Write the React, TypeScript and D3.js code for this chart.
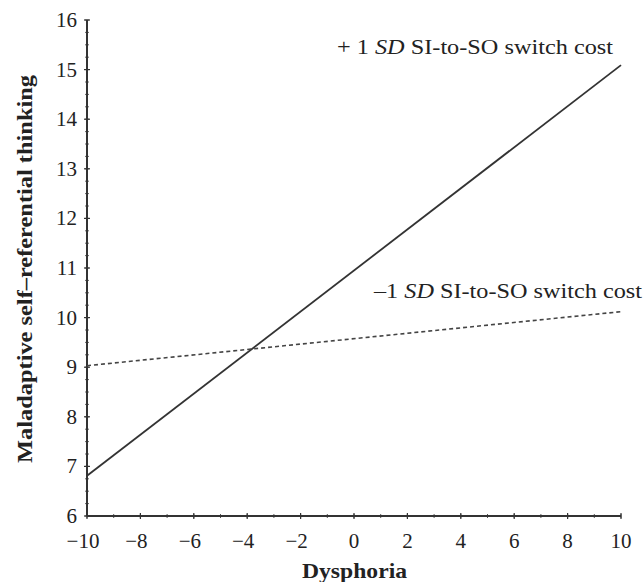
import React from "react";
import * as d3 from "d3";

const xDomain = [-10, 10];
const yDomain = [6, 16];
const xTicks = [-10, -8, -6, -4, -2, 0, 2, 4, 6, 8, 10];
const yTicks = [6, 7, 8, 9, 10, 11, 12, 13, 14, 15, 16];
const highX = [-10, 10];
const highY = [6.81, 15.09];
const lowX = [-10, 10];
const lowY = [9.03, 10.12];

const W = 644;
const H = 582;
const M = { left: 87, right: 621, top: 20, bottom: 516 };
const FONT = "'Liberation Serif', 'Times New Roman', serif";
const INK = "#222";

export default function App() {
  const x = d3.scaleLinear().domain(xDomain).range([M.left, M.right]);
  const y = d3.scaleLinear().domain(yDomain).range([M.bottom, M.top]);
  const line = d3
    .line<[number, number]>()
    .x((d) => x(d[0]))
    .y((d) => y(d[1]));
  const high = highX.map((v, i) => [v, highY[i]] as [number, number]);
  const low = lowX.map((v, i) => [v, lowY[i]] as [number, number]);
  const xMinor = d3.range(xDomain[0], xDomain[1] + 0.001, 1);
  const yMinor = d3.range(yDomain[0], yDomain[1] + 0.001, 0.25);
  const minus = (v: number) => (v < 0 ? "\u2212" + Math.abs(v) : String(v));

  return (
    <svg
      width={W}
      height={H}
      style={{ position: "absolute", left: 0, top: 0, background: "#fff" }}
      fontFamily={FONT}
    >
      <rect width={W} height={H} fill="#fff" />
      {/* minor ticks */}
      {xMinor.map((v) => (
        <line key={"xm" + v} x1={x(v)} x2={x(v)} y1={M.bottom - 2} y2={M.bottom + 2} stroke="#555" strokeWidth={1} />
      ))}
      {yMinor.map((v) => (
        <line key={"ym" + v} x1={M.left - 2} x2={M.left + 2} y1={y(v)} y2={y(v)} stroke="#666" strokeWidth={1} />
      ))}
      {xTicks.map((v) => (
        <line key={"xt" + v} x1={x(v)} x2={x(v)} y1={M.bottom - 3} y2={M.bottom + 3} stroke="#333" strokeWidth={1.2} />
      ))}
      {yTicks.map((v) => (
        <line key={"yt" + v} x1={M.left - 3} x2={M.left + 3} y1={y(v)} y2={y(v)} stroke="#333" strokeWidth={1.2} />
      ))}
      {/* axes */}
      <line x1={M.left} x2={M.left} y1={M.top} y2={M.bottom} stroke="#333" strokeWidth={2} />
      <line x1={M.left} x2={M.right} y1={M.bottom} y2={M.bottom} stroke="#333" strokeWidth={2} />
      {/* tick labels */}
      {xTicks.map((v) => (
        <text key={"xl" + v} x={x(v) + (v < 0 ? -4 : 0)} y={548} textAnchor="middle" fontSize={21} fill={INK}>
          {minus(v)}
        </text>
      ))}
      {yTicks.map((v) => (
        <text key={"yl" + v} x={77} y={y(v) + 7} textAnchor="end" fontSize={21} fill={INK}>
          {v}
        </text>
      ))}
      {/* lines */}
      <path d={line(high) || ""} fill="none" stroke="#333" strokeWidth={1.8} />
      <path d={line(low) || ""} fill="none" stroke="#444" strokeWidth={1.6} strokeDasharray="4,3" />
      {/* annotations */}
      <text x={337} y={54} fontSize={22} fill={INK} textLength={276} lengthAdjust="spacingAndGlyphs">
        + 1 <tspan fontStyle="italic">SD</tspan> SI-to-SO switch cost
      </text>
      <text x={374} y={298} fontSize={22} fill={INK} textLength={268} lengthAdjust="spacingAndGlyphs">
        {"\u20131 "}<tspan fontStyle="italic">SD</tspan> SI-to-SO switch cost
      </text>
      {/* axis titles */}
      <text x={302} y={578} fontSize={22} fontWeight="bold" fill={INK} textLength={105} lengthAdjust="spacingAndGlyphs">
        Dysphoria
      </text>
      <text
        transform={`translate(32, 463) rotate(-90)`}
        fontSize={22}
        fontWeight="bold"
        fill={INK}
        textLength={388}
        lengthAdjust="spacingAndGlyphs"
      >
        Maladaptive self–referential thinking
      </text>
    </svg>
  );
}
